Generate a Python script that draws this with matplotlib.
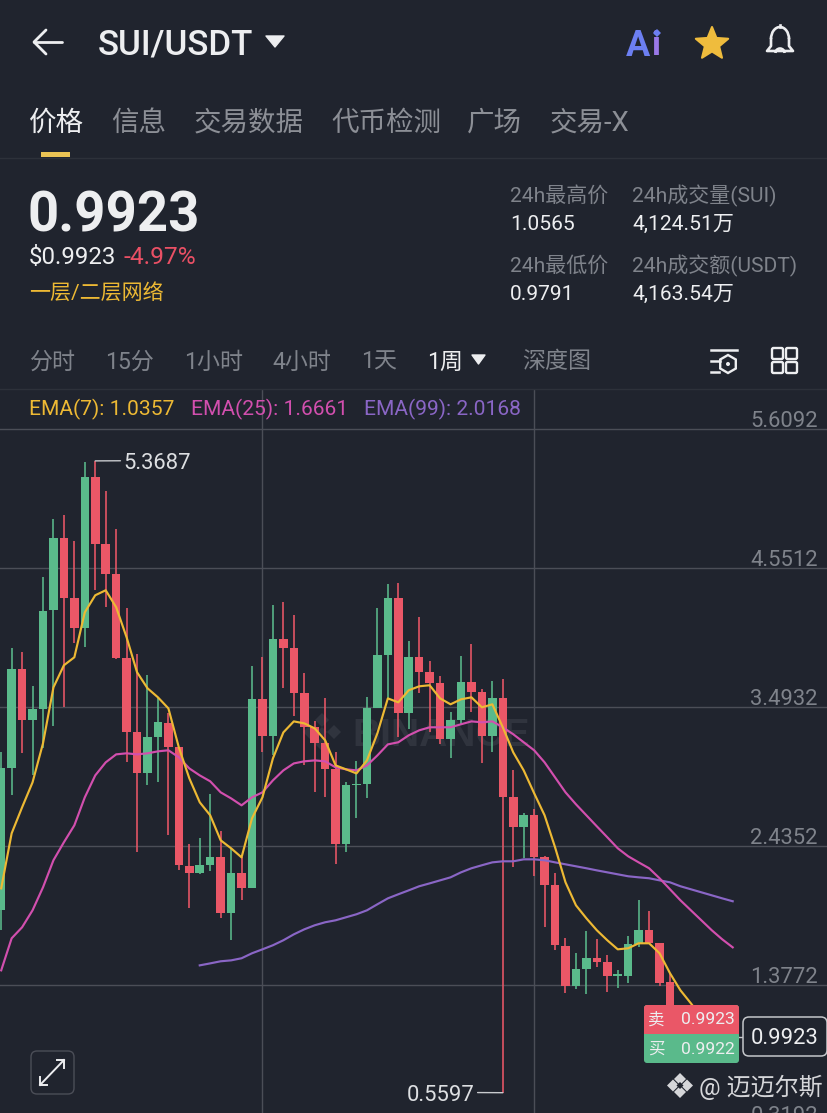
import numpy as np
import matplotlib
matplotlib.use('Agg')
import matplotlib.pyplot as plt
from matplotlib.patches import FancyBboxPatch, Polygon, Rectangle, Circle, Arc, RegularPolygon

plt.rcParams['font.family'] = ['Roboto', 'Noto Sans CJK SC', 'DejaVu Sans']

highs = [3.150,3.943,3.912,3.653,4.483,4.924,4.955,4.757,5.358,5.3687,5.137,4.848,4.247,3.897,3.737,3.561,3.447,3.188,2.450,2.496,2.831,2.549,2.420,2.351,3.805,3.874,4.270,4.293,4.194,3.752,3.386,3.561,3.150,2.922,3.082,3.569,4.247,4.430,4.437,3.996,4.179,3.844,3.730,3.455,3.881,3.973,3.630,3.691,3.706,3.013,2.686,2.717,2.359,2.230,1.735,1.621,1.788,1.727,1.606,1.491,1.750,2.024,1.940,1.697,1.469]
lows = [1.796,2.823,3.143,2.975,3.181,3.348,3.493,3.981,3.950,4.384,4.255,3.859,3.074,2.389,2.899,2.922,2.519,2.252,1.963,2.222,2.245,1.887,1.720,2.024,2.115,3.150,3.127,3.638,3.424,3.051,2.846,2.808,2.298,2.389,2.648,2.800,3.485,3.561,3.264,3.325,3.599,3.302,3.211,3.104,3.356,3.455,3.066,3.150,0.5597,2.275,2.344,2.207,1.819,1.644,1.316,1.347,1.309,1.514,1.324,1.354,1.393,1.667,1.697,1.370,0.9791]
opens = [1.948,3.028,3.783,3.394,3.478,4.232,4.780,4.323,4.095,5.244,4.734,4.506,3.867,3.302,2.990,3.264,3.371,3.188,2.283,2.230,2.290,2.351,1.925,2.230,2.115,3.554,3.272,4.011,3.943,3.599,3.341,3.219,3.021,2.450,2.899,2.907,3.485,3.889,4.323,3.447,3.874,3.760,3.676,3.249,3.394,3.684,3.607,3.272,3.561,2.808,2.580,2.671,2.351,2.138,1.674,1.370,1.499,1.583,1.552,1.446,1.446,1.689,1.796,1.697,1.400]
closes = [3.028,3.783,3.394,3.478,4.224,4.780,4.323,4.095,5.244,4.734,4.506,3.867,3.302,2.990,3.264,3.378,3.188,2.290,2.230,2.290,2.351,1.925,2.230,2.115,3.554,3.272,4.011,3.943,3.599,3.341,3.219,3.021,2.450,2.899,2.907,3.485,3.889,4.323,3.447,3.874,3.760,3.676,3.249,3.394,3.684,3.607,3.272,3.561,2.808,2.580,2.671,2.351,2.138,1.682,1.370,1.499,1.583,1.552,1.446,1.453,1.689,1.796,1.697,1.393,0.9923]

ema7 = [2.115,2.534,2.732,2.922,3.219,3.645,3.813,3.874,4.216,4.346,4.384,4.255,4.026,3.760,3.638,3.569,3.485,3.188,2.953,2.770,2.671,2.481,2.420,2.351,2.648,2.808,3.104,3.302,3.386,3.371,3.333,3.242,3.051,3.021,2.990,3.089,3.295,3.561,3.531,3.623,3.653,3.661,3.561,3.516,3.554,3.569,3.493,3.516,3.341,3.150,3.013,2.839,2.671,2.428,2.161,1.986,1.887,1.796,1.720,1.651,1.659,1.697,1.697,1.621,1.469,1.339,1.240,1.134,1.0357]
ema25 = [1.491,1.735,1.819,1.948,2.123,2.329,2.466,2.595,2.808,2.975,3.074,3.135,3.143,3.135,3.143,3.158,3.166,3.113,3.028,2.975,2.930,2.846,2.800,2.747,2.808,2.846,2.937,3.013,3.066,3.082,3.089,3.082,3.036,3.021,3.013,3.051,3.127,3.211,3.227,3.280,3.318,3.341,3.341,3.341,3.364,3.386,3.379,3.386,3.341,3.288,3.227,3.166,3.074,2.960,2.846,2.755,2.671,2.587,2.504,2.420,2.359,2.313,2.268,2.192,2.108,2.024,1.948,1.872,1.796,1.727,1.6661]
ema99 = [1.529,1.544,1.560,1.567,1.583,1.621,1.651,1.682,1.720,1.765,1.803,1.834,1.857,1.872,1.895,1.918,1.948,1.994,2.039,2.070,2.100,2.131,2.153,2.176,2.199,2.237,2.268,2.291,2.313,2.321,2.321,2.336,2.336,2.329,2.313,2.298,2.283,2.268,2.252,2.237,2.222,2.207,2.199,2.192,2.176,2.161,2.131,2.108,2.085,2.062,2.039,2.0168]
ema99_start = 19

price_ticks = [5.6092,4.5512,3.4932,2.4352,1.3772,0.3192]
week_ticks = [25,51]
peak_label = (9,5.3687,'5.3687')
trough_label = (48,0.5597,'0.5597')

BG='#20242E'; GREEN='#5ABA8B'; RED='#EA5767'; GRID='#4B4E57'; LINE='#2D313A'
YEL='#EDB934'; PINK='#D24FAE'; PUR='#8A66C6'; GRAY='#7F838B'; WHITE='#EDEEF0'; MARK='#30343E'
WIDTH,HEIGHT=828,1113
def fs(px): return px*0.72

fig=plt.figure(figsize=(WIDTH/100,HEIGHT/100),dpi=100,facecolor=BG)

# price axes
top_px=389
ax=fig.add_axes([0,0,1,(HEIGHT-top_px)/HEIGHT],facecolor=BG,zorder=1)
PX_PER_UNIT=139/1.058
STEP=10.45; X0=1.2
ax.set_xlim(-X0/STEP,(WIDTH-X0)/STEP)
ax.set_ylim(5.6092-(1113-429.3)/PX_PER_UNIT,5.6092+(429.3-top_px)/PX_PER_UNIT)
ax.set_xticks(week_ticks); ax.set_yticks(price_ticks[:-1])
ax.grid(True,color=GRID,lw=1.0,zorder=0)
ax.set_axisbelow(True)
ax.tick_params(length=0,labelbottom=False,labelleft=False)
for s in ax.spines.values(): s.set_visible(False)

# faint exchange watermark behind the candles
def scr(x,y): return (x/WIDTH,(HEIGHT-y)/(HEIGHT-top_px))
ax.text(*scr(441,736),'BINANCE',transform=ax.transAxes,ha='center',va='center',color=MARK,
        fontsize=fs(39),fontweight='bold',family='Liberation Sans',zorder=1.2)
def diamond(cx,cy,r):
    return Polygon([scr(cx,cy-r),scr(cx+r,cy),scr(cx,cy+r),scr(cx-r,cy)],transform=ax.transAxes,fc=MARK,ec='none',zorder=1.2)
for cx,cy,r in [(322,732,5),(310,732,7),(334,732,7),(322,720,7),(322,744,7)]:
    ax.add_patch(diamond(cx,cy,r))

idx=np.arange(len(opens))
o=np.array(opens); c=np.array(closes)
cols=[GREEN if cc>=oo else RED for oo,cc in zip(o,c)]
ax.vlines(idx,lows,highs,colors=cols,lw=1.15,zorder=2)
body=np.maximum(np.abs(c-o),0.014)
ax.bar(idx,body,bottom=np.minimum(o,c),width=0.82,color=cols,zorder=3,linewidth=0)

ax.plot(np.arange(len(ema99))+ema99_start,ema99,color=PUR,lw=1.55,zorder=4)
ax.plot(np.arange(len(ema25)),ema25,color=PINK,lw=1.55,zorder=5)
ax.plot(np.arange(len(ema7)),ema7,color=YEL,lw=1.55,zorder=6)

for v in price_ticks:
    ax.annotate(f'{v:.4f}',xy=(818/WIDTH,v),xycoords=('axes fraction','data'),xytext=(0,8),
                textcoords='offset pixels',ha='right',va='center',color=GRAY,fontsize=fs(22),
                annotation_clip=False,zorder=7)
ax.annotate(peak_label[2],xy=peak_label[:2],xytext=(28,-3),textcoords='offset pixels',va='center',ha='left',
            color='#DDDFE2',fontsize=fs(22),zorder=8,
            arrowprops=dict(arrowstyle='-',color='#C8CACE',lw=1,shrinkA=0,shrinkB=0,relpos=(0,0.65)))
ax.annotate(trough_label[2],xy=trough_label[:2],xytext=(-28,-3),textcoords='offset pixels',va='center',ha='right',
            color='#DDDFE2',fontsize=fs(22),zorder=8,
            arrowprops=dict(arrowstyle='-',color='#C8CACE',lw=1,shrinkA=0,shrinkB=0,relpos=(1,0.65)))

# UI overlay in screen pixels
ui=fig.add_axes([0,0,1,1],zorder=5); ui.set_xlim(0,WIDTH); ui.set_ylim(HEIGHT,0); ui.axis('off')
ui.patch.set_alpha(0)
def T(x,y,s,px,color=WHITE,ha='left',va='center',**k):
    return ui.text(x,y+2,s,fontsize=fs(px),color=color,ha=ha,va=va,**k)
def box(x0,y0,x1,y1,r,fc,ec='none',lw=0,z=3):
    p=FancyBboxPatch((x0+r,y0+r),x1-x0-2*r,y1-y0-2*r,boxstyle=f'round,pad={r},rounding_size={r}',fc=fc,ec=ec,lw=lw,zorder=z)
    ui.add_patch(p); return p

# header
ui.plot([34,62],[42,42],color=WHITE,lw=2,solid_capstyle='round')
ui.plot([46,34,46],[30,42,54],color=WHITE,lw=2,solid_capstyle='round',solid_joinstyle='round')
T(98,43,'SUI/USDT',35,fontweight='medium')
ui.add_patch(Polygon([[266,36],[284,36],[275,47]],fc=WHITE,ec=WHITE,lw=1,joinstyle='round'))
T(626,44,'A',36,color='#6C7FF2',fontweight='bold')
T(651,44,'i',34,color='#9A78E8',fontweight='bold')
ui.add_patch(RegularPolygon((657,33),4,radius=4,fc='#6C7FF2',zorder=4))
ang=np.deg2rad(np.arange(0,360,36)-90)
rad=np.array([17,7.5]*5)
ui.add_patch(Polygon(np.c_[712+rad*np.cos(ang),44+rad*np.sin(ang)],fc='#EFBC3D',ec='#EFBC3D',lw=1.5,joinstyle='round'))
ui.add_patch(Arc((780,39),18,24,theta1=180,theta2=360,color=WHITE,lw=1.9))
ui.plot([771,771,767,793,789,789],[39,46,51,51,46,39],color=WHITE,lw=1.9,solid_joinstyle='round')
ui.add_patch(Arc((780,53),9,9,theta1=180,theta2=360,color=WHITE,lw=1.9))
ui.plot([780,780],[25,27],color=WHITE,lw=1.9)

# tabs
for x,s,col in zip([29,111,194,331,467,550],['价格','信息','交易数据','代币检测','广场','交易-X'],[WHITE]+['#8C8F96']*5):
    T(x,121,s,27.5,color=col)
ui.add_patch(Rectangle((41,152),29,5,fc='#EBC354',ec='none',zorder=3))
ui.plot([0,WIDTH],[157.5,157.5],color=LINE,lw=1)
ui.plot([0,WIDTH],[388.5,388.5],color=LINE,lw=1)

# price header
T(28,214,'0.9923',54.5,fontweight='bold')
T(29,256,'$0.9923',24)
T(124,256,'-4.97%',24.5,color='#EA5065')
T(29,291,'一层/二层网络',21,color='#EDB934')
for x,y,s,col in [(510,194,'24h最高价',GRAY),(632,194,'24h成交量(SUI)',GRAY),(510,222,'1.0565',WHITE),(632,222,'4,124.51万',WHITE),
                  (510,264,'24h最低价',GRAY),(632,264,'24h成交额(USDT)',GRAY),(510,292,'0.9791',WHITE),(632,292,'4,163.54万',WHITE)]:
    T(x,y,s,21,color=col)

# interval row
for x,s,col in zip([29,105,184,272,361,427,522],['分时','15分','1小时','4小时','1天','1周','深度图'],
                   ['#7F838B']*5+[WHITE,'#7F838B']):
    T(x,360,s,23,color=col)
ui.add_patch(Polygon([[472,355],[485,355],[478.5,364]],fc=WHITE,ec=WHITE,lw=1,joinstyle='round'))
ui.plot([711,737],[350,350],color=WHITE,lw=1.8)
ui.plot([711,720],[361,361],color=WHITE,lw=1.8)
ui.plot([711,719],[372,372],color=WHITE,lw=1.8)
ui.add_patch(RegularPolygon((728,364),6,radius=9,fc='none',ec=WHITE,lw=1.7))
ui.add_patch(Circle((728,364),2,fc=WHITE,ec='none'))
for xx in (772,786):
    for yy in (348,362):
        box(xx,yy,xx+11,yy+11,1.5,'none',WHITE,1.7)

# legend
T(29,407,'EMA(7): 1.0357',21,color=YEL)
T(191,407,'EMA(25): 1.6661',21,color=PINK)
T(364,407,'EMA(99): 2.0168',21,color=PUR)

# price tags
ui.add_patch(FancyBboxPatch((646,1007),91,54,boxstyle='round,pad=2,rounding_size=3',fc=GREEN,ec='none',zorder=3))
ui.add_patch(FancyBboxPatch((646,1007),91,25,boxstyle='round,pad=2,rounding_size=3',fc=RED,ec='none',zorder=3.1))
ui.add_patch(Rectangle((644,1028),95,6,fc=RED,ec='none',zorder=3.1))
T(648,1018,'卖',16.5,zorder=4); T(735,1018,'0.9923',17.5,ha='right',zorder=4)
T(648,1047,'买',16.5,zorder=4); T(735,1047,'0.9922',17.5,ha='right',zorder=4)
ui.plot([739,743],[1036.5,1036.5],color='#C4C6CA',lw=1)
box(743,1017,827,1056,6,BG,'#C4C6CA',1.1)
T(785,1037,'0.9923',22,ha='center',zorder=4)

# expand button
box(31,1051,74,1094,6,BG,'#4B4E57',1)
ui.plot([40,64],[1085,1060],color=WHITE,lw=1.4,zorder=4)
ui.plot([40,40,47],[1077,1085,1085],color=WHITE,lw=1.4,zorder=4)
ui.plot([57,64,64],[1060,1060,1068],color=WHITE,lw=1.4,zorder=4)

# bottom-right source mark
for (cx,cy,r) in [(680,1079,6),(680,1092,6),(673,1085.5,6),(687,1085.5,6)]:
    ui.add_patch(RegularPolygon((cx,cy),4,radius=r,fc='#D5D6D9',zorder=4))
ui.add_patch(RegularPolygon((680,1085.5),4,radius=3.5,fc=BG,zorder=4.1))
T(699,1085,'@ 迈迈尔斯',24,color='#D5D6D9',zorder=4)

fig.savefig('out.png',dpi=100,facecolor=BG)
